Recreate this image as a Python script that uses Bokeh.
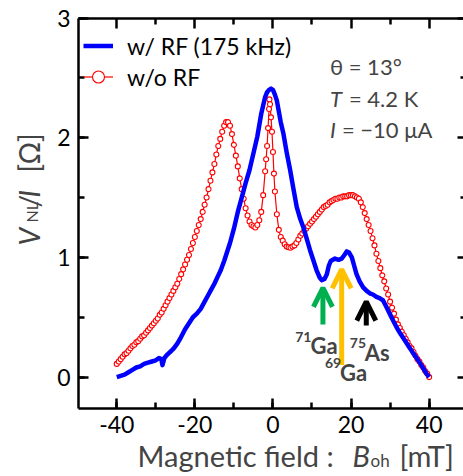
import numpy as np
from bokeh.plotting import figure
from bokeh.models import (Range1d, LinearAxis, SingleIntervalTicker, FixedTicker, Label,
                          Arrow, OpenHead, Legend, LegendItem)
from bokeh.embed import file_html
from bokeh.resources import INLINE

# ---------------- data ----------------
red_field = [round(-40 + 0.5 * i, 2) for i in range(76)]
red_field += [-2.0, -1.75, -1.5, -1.25, -1.0, -0.9, -0.75, -0.5, -0.25, 0.0, 0.25]
red_field += [round(0.5 + 0.5 * i, 2) for i in range(80)]
red_vnl = [
    0.11, 0.13, 0.15, 0.17, 0.19, 0.20, 0.22, 0.24, 0.26, 0.27,
    0.29, 0.30, 0.32, 0.34, 0.35, 0.37, 0.39, 0.41, 0.43, 0.45, 0.47,
    0.49, 0.52, 0.54, 0.57, 0.60, 0.63, 0.66, 0.69, 0.72, 0.75,
    0.78, 0.82, 0.86, 0.90, 0.94, 0.98, 1.02, 1.07, 1.12, 1.17,
    1.22, 1.27, 1.32, 1.38, 1.44, 1.50, 1.57, 1.64, 1.71, 1.78,
    1.86, 1.93, 1.99, 2.05, 2.10, 2.13, 2.13, 2.10, 2.03, 1.94,
    1.85, 1.76, 1.66, 1.57, 1.49, 1.41, 1.35, 1.30, 1.27, 1.26,
    1.25, 1.27, 1.31, 1.38, 1.52,
    1.72, 1.82, 1.93, 2.08, 2.24, 2.32, 2.28, 2.17, 2.05, 1.88, 1.70,
    1.55, 1.36, 1.23, 1.17, 1.14, 1.11, 1.09, 1.085, 1.08, 1.09,
    1.10, 1.12, 1.15, 1.18, 1.20, 1.22, 1.24, 1.26, 1.28, 1.30,
    1.32, 1.34, 1.36, 1.38, 1.40, 1.42, 1.43, 1.44, 1.46, 1.47,
    1.48, 1.49, 1.49, 1.50, 1.50, 1.51, 1.51, 1.51, 1.52, 1.52,
    1.52, 1.51, 1.50, 1.49, 1.46, 1.42, 1.37, 1.32, 1.27, 1.22,
    1.16, 1.10, 1.03, 0.97, 0.91, 0.85, 0.80, 0.74, 0.69, 0.63,
    0.58, 0.53, 0.48, 0.44, 0.41, 0.38, 0.35, 0.32, 0.29, 0.26,
    0.24, 0.21, 0.18, 0.15, 0.13, 0.10, 0.08, 0.05, 0.03, 0.00,
]

blue_field = [
    -40, -39, -38, -37, -36, -35, -34, -33, -32, -31, -30,
    -29.2, -28.6, -28.3, -27.8, -27.0, -26.0, -25.4, -24.5, -23.6, -22.5,
    -21.5, -20.5, -19.5, -18.5, -17.5, -16.5, -16.0, -15.0, -14.0, -13.4,
    -12.5, -11.5, -11.0, -10.0, -9.0, -8.0, -7.5, -7.0, -6.0, -5.0,
    -4.0, -3.0, -2.0, -1.5, -1.0, -0.5, 0.0, 0.5, 1.0, 1.5,
    2.0, 2.7, 3.5, 4.4, 5.2, 6.1, 7.0, 7.8, 8.6, 9.5,
    10.3, 11.2, 12.0, 12.5, 13.2, 13.8, 14.3, 14.8, 15.9, 16.8,
    17.6, 18.3, 18.9, 19.5, 20.2, 20.8, 21.4, 22.2, 23.1, 24.0,
    24.8, 25.6, 26.5, 27.3, 28.2, 29.0, 29.9, 30.8, 31.6, 32.5,
    33.3, 34.5, 35.9, 37.0, 38.0, 39.3, 40.0,
]
blue_vnl = [
    0.00, 0.01, 0.02, 0.04, 0.06, 0.08, 0.09, 0.11, 0.12, 0.13, 0.14,
    0.16, 0.15, 0.10, 0.16, 0.19, 0.22, 0.24, 0.28, 0.33, 0.40,
    0.45, 0.50, 0.53, 0.57, 0.63, 0.69, 0.72, 0.78, 0.85, 0.89,
    0.97, 1.07, 1.12, 1.24, 1.38, 1.50, 1.56, 1.62, 1.73, 1.87,
    2.01, 2.20, 2.34, 2.38, 2.40, 2.41, 2.40, 2.36, 2.31, 2.22,
    2.13, 2.03, 1.88, 1.73, 1.58, 1.42, 1.32, 1.25, 1.16, 1.06,
    0.98, 0.89, 0.83, 0.81, 0.82, 0.86, 0.93, 0.97, 0.99, 0.98,
    0.99, 1.02, 1.05, 1.04, 1.00, 0.93, 0.86, 0.80, 0.75, 0.72,
    0.70, 0.69, 0.67, 0.66, 0.64, 0.59, 0.53, 0.47, 0.42, 0.37,
    0.33, 0.27, 0.20, 0.15, 0.10, 0.03, 0.00,
]

x_tick_values = [-40, -20, 0, 20, 40]
x_tick_labels = ["-40", "-20", "0", "20", "40"]
x_minor_values = [-30, -10, 10, 30]
y_tick_values = [0, 1, 2, 3]
y_tick_labels = ["0", "1", "2", "3"]
y_minor_values = [0.5, 1.5, 2.5]

series_names = ["w/ RF (175 kHz)", "w/o RF"]

# nuclear resonance arrows
arrow_field = [12.8, 17.6, 23.9]
arrow_bottom = [0.44, 0.10, 0.43]
arrow_top = [0.745, 0.90, 0.63]
arrow_colors = ["#00B050", "#FFC000", "#000000"]
nuclide_mass = ["71", "69", "75"]
nuclide_elem = ["Ga", "Ga", "As"]

FONT = "Lato"
W, H = 463, 476
SHIFT = 8  # baseline correction (px)

# axis box (data) and its place on the canvas (px)
X_LO, X_HI = -49.8, 48.8
Y_LO, Y_HI = -0.26, 3.0
BOX_L, BOX_R, BOX_T, BOX_B = 78.0, 463.0, 17.5, 407.7
xs = (X_HI - X_LO) / (BOX_R - BOX_L)
ys = (Y_HI - Y_LO) / (BOX_B - BOX_T)
xr = Range1d(X_LO - BOX_L * xs, X_HI + (W - BOX_R) * xs)
yr = Range1d(Y_LO - (H - BOX_B) * ys, Y_HI + BOX_T * ys)

p = figure(width=W, height=H, x_range=xr, y_range=yr,
           output_backend="svg", toolbar_location=None,
           x_axis_location=None, y_axis_location=None,
           min_border=0, min_border_left=0, min_border_right=0,
           min_border_top=0, min_border_bottom=0)
p.outline_line_color = None
p.background_fill_color = "white"
p.border_fill_color = "white"
for g in p.grid:
    g.visible = False


def style_axis(ax, line=True):
    ax.axis_line_width = 2.5
    ax.axis_line_color = "black" if line else None
    ax.major_tick_line_width = 2.5
    ax.minor_tick_line_width = 2.5
    ax.major_tick_out = 0
    ax.minor_tick_out = 0
    return ax


def label_axis(interval, loc, bounds, overrides):
    ax = LinearAxis(ticker=SingleIntervalTicker(interval=interval, num_minor_ticks=2),
                    fixed_location=loc, bounds=bounds)
    style_axis(ax)
    ax.major_tick_in = 10
    ax.minor_tick_in = 6
    ax.major_label_text_font = FONT
    ax.major_label_text_font_size = "23px"
    ax.major_label_text_color = "black"
    ax.major_label_standoff = 8
    ax.major_label_overrides = overrides
    return ax


def tick_axis(ticks, loc, bounds, length, line):
    # ticks only (drawn as "minor" ticks so no tick labels are produced)
    ax = LinearAxis(ticker=FixedTicker(ticks=[], minor_ticks=ticks),
                    fixed_location=loc, bounds=bounds)
    style_axis(ax, line)
    ax.minor_tick_in = length
    ax.major_label_standoff = 0
    return ax


p.add_layout(label_axis(20, Y_LO, (X_LO, X_HI), dict(zip(x_tick_values, x_tick_labels))), "below")
p.add_layout(label_axis(1, X_LO, (Y_LO, Y_HI), dict(zip(y_tick_values, y_tick_labels))), "left")
p.add_layout(tick_axis(x_tick_values, Y_HI, (X_LO, X_HI), 10, True), "above")
p.add_layout(tick_axis(x_minor_values, Y_HI, (X_LO, X_HI), 6, False), "above")
p.add_layout(tick_axis(y_tick_values, X_HI, (Y_LO, Y_HI), 6, False), "right")
p.add_layout(tick_axis(y_minor_values, X_HI, (Y_LO, Y_HI), 3, False), "right")

# ---------------- data glyphs ----------------
red_line = p.line(red_field, red_vnl, line_color="#FF0000", line_width=1.2)
red_pts = p.scatter(red_field, red_vnl, marker="circle", size=5,
                    line_color="#FF0000", line_width=1.1, fill_color="white")
blue_line = p.line(blue_field, blue_vnl, line_color="#0000FF", line_width=4.5,
                   line_join="round")

legend = Legend(items=[LegendItem(label=series_names[0], renderers=[blue_line]),
                       LegendItem(label=series_names[1], renderers=[red_line, red_pts])],
                location=(83, 384))
legend.border_line_color = None
legend.background_fill_alpha = 0
legend.glyph_width = 30
legend.glyph_height = 31
legend.label_height = 31
legend.label_standoff = 14
legend.padding = 0
legend.spacing = 0
legend.margin = 0
legend.label_text_font = FONT
legend.label_text_font_size = "23px"
legend.label_text_color = "black"
p.add_layout(legend)

# ---------------- arrows & nuclide labels ----------------
mass_x = [5.7, 13.3, 19.7]
elem_x = [9.6, 17.2, 23.5]
label_y = [0.195, -0.028, 0.14]
for i in range(3):
    c = arrow_colors[i]
    p.add_layout(Arrow(end=OpenHead(size=19, line_width=5, line_color=c),
                       x_start=arrow_field[i], y_start=arrow_bottom[i],
                       x_end=arrow_field[i], y_end=arrow_top[i],
                       line_width=5, line_color=c))
    p.add_layout(Label(x=mass_x[i], y=label_y[i], y_offset=9 + SHIFT, text=nuclide_mass[i],
                       text_font=FONT, text_font_style="bold", text_font_size="14px",
                       text_baseline="alphabetic", text_align="left"))
    p.add_layout(Label(x=elem_x[i], y=label_y[i], y_offset=SHIFT, text=nuclide_elem[i],
                       text_font=FONT, text_font_style="bold", text_font_size="22px",
                       text_baseline="alphabetic", text_align="left"))

# ---------------- condition text ----------------
cond_x = 14.6
cond_y = [2.527, 2.26, 2.0]


def clabel(y, text, xoff=0, style="normal"):
    p.add_layout(Label(x=cond_x, y=y, x_offset=xoff, y_offset=SHIFT, text=text,
                       text_font=FONT, text_font_style=style, text_font_size="22px",
                       text_baseline="alphabetic"))


clabel(cond_y[0], "θ = 13°")
clabel(cond_y[1], "T", 0, "italic")
clabel(cond_y[1], "= 4.2 K", 19)
clabel(cond_y[2], "I", 0, "italic")
clabel(cond_y[2], "= −10 μA", 12)


# ---------------- axis titles (composed, canvas px from bottom-left) ----------------
def slabel(x, y, text, size, style="normal", angle=0.0):
    p.add_layout(Label(x=x, y=y, x_units="screen", y_units="screen", text=text,
                       text_font=FONT, text_font_size=size, text_font_style=style,
                       angle=angle, text_baseline="alphabetic", text_align="left"))


# x title
slabel(137, 13 + SHIFT, "Magnetic field :", "29px")
slabel(352, 13 + SHIFT, "B", "29px", "italic")
slabel(370, 8 + SHIFT, "oh", "17px")
slabel(399, 13 + SHIFT, "[mT]", "29px")

# y title (rotated)
A = np.pi / 2
slabel(36 - SHIFT, 231, "V", "28px", "italic", A)
slabel(39 - SHIFT, 254, "NL", "16px", "normal", A)
slabel(36 - SHIFT, 269, "/", "28px", "normal", A)
slabel(36 - SHIFT, 279, "I", "28px", "italic", A)
slabel(36 - SHIFT, 304, "[Ω]", "28px", "normal", A)

open("out.html", "w").write(file_html(p, INLINE))
